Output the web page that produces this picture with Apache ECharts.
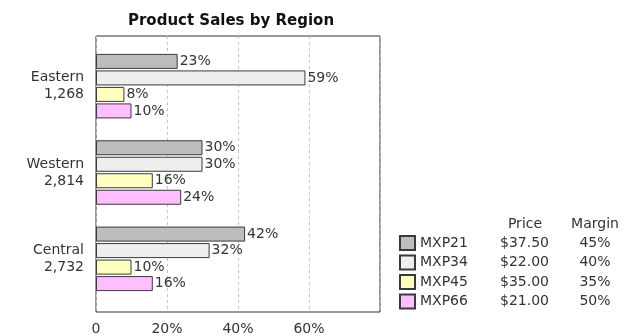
<!DOCTYPE html>
<html>
<head>
<meta charset="utf-8">
<script src="https://cdn.jsdelivr.net/npm/echarts@6/dist/echarts.min.js"></script>
<style>
  html, body { margin: 0; padding: 0; background: #fff; }
  #chart { width: 635px; height: 336px; }
</style>
</head>
<body>
<div id="chart"></div>
<script>
// Regions and their unit totals (shown under each region name)
const regions = ['Eastern', 'Western', 'Central'];
const regionTotals = ['1,268', '2,814', '2,732'];

// Products with price and margin columns for the legend table
const products = ['MXP21', 'MXP34', 'MXP45', 'MXP66'];
const prices = ['$37.50', '$22.00', '$35.00', '$21.00'];
const margins = ['45%', '40%', '35%', '50%'];

// Share of each region's sales per product (%), in region order
const shareMXP21 = [23, 30, 42];
const shareMXP34 = [59, 30, 32];
const shareMXP45 = [8, 16, 10];
const shareMXP66 = [10, 24, 16];

// Value axis range / ticks (%)
const axisMin = 0;
const axisMax = 80;
const axisStep = 20;

const productColors = ['#bdbdbd', '#eeeeee', '#ffffbf', '#ffbfff'];
const FONT = '"DejaVu Sans", Verdana, sans-serif';

const shares = [shareMXP21, shareMXP34, shareMXP45, shareMXP66];

const chart = echarts.init(document.getElementById('chart'), null, { renderer: 'canvas' });

const series = products.map((p, i) => ({
  name: p,
  type: 'bar',
  xAxisIndex: 1,
  yAxisIndex: 1,
  data: shares[i],
  barWidth: 15,
  barGap: '10%',
  itemStyle: { color: productColors[i], borderColor: '#3a3a3a', borderWidth: 1 },
  label: {
    show: true,
    position: 'right',
    distance: 2,
    formatter: '{c}%',
    fontFamily: FONT,
    fontSize: 14,
    color: '#333'
  },
  emphasis: { disabled: true },
  animation: false
}));

chart.setOption({
  backgroundColor: '#fff',
  animation: false,
  graphic: [
    {
      type: 'text', x: 231, y: 21,
      style: { text: 'Product Sales by Region', font: 'bold 15px ' + FONT, fill: '#111', align: 'center', verticalAlign: 'middle' }
    },
    {
      type: 'text', x: 525, y: 224,
      style: { text: 'Price', font: '14px ' + FONT, fill: '#333', align: 'center', verticalAlign: 'middle' }
    },
    {
      type: 'text', x: 595, y: 224,
      style: { text: 'Margin', font: '14px ' + FONT, fill: '#333', align: 'center', verticalAlign: 'middle' }
    }
  ],
  legend: {
    data: products,
    orient: 'vertical',
    left: 399,
    top: 235,
    padding: 0,
    itemWidth: 15,
    itemHeight: 14,
    itemGap: 3.5,
    icon: 'rect',
    selectedMode: false,
    formatter: name => {
      const k = products.indexOf(name);
      return '{n|' + name + '}{p|' + prices[k] + '}{m|' + margins[k] + '}';
    },
    textStyle: {
      fontFamily: FONT,
      fontSize: 14,
      lineHeight: 16,
      color: '#333',
      rich: {
        n: { width: 71, fontFamily: FONT, fontSize: 14, lineHeight: 16, color: '#333' },
        p: { width: 67, align: 'center', fontFamily: FONT, fontSize: 14, lineHeight: 16, color: '#333' },
        m: { width: 74, align: 'center', fontFamily: FONT, fontSize: 14, lineHeight: 16, color: '#333' }
      }
    }
  },
  grid: [
    // framed plot box with gridlines
    { left: 96, top: 36, width: 284, height: 277, show: true, borderColor: '#333', borderWidth: 1, backgroundColor: 'transparent' },
    // inner band area for the grouped bars
    { left: 96, top: 43, width: 284, height: 259 }
  ],
  xAxis: [
    {
      gridIndex: 0, type: 'value', min: axisMin, max: axisMax, interval: axisStep,
      axisLine: { show: false }, axisTick: { show: false },
      splitLine: { show: true, lineStyle: { type: [3, 3], color: '#c4c4c4', width: 1 } },
      axisLabel: {
        margin: 10,
        showMaxLabel: false,
        fontFamily: FONT, fontSize: 14, color: '#333',
        formatter: v => (v === 0 ? '0' : v + '%')
      }
    },
    {
      gridIndex: 1, type: 'value', min: axisMin, max: axisMax, show: false
    }
  ],
  yAxis: [
    { gridIndex: 0, type: 'value', show: false },
    {
      gridIndex: 1, type: 'category', inverse: true,
      data: regions,
      axisLine: { show: false }, axisTick: { show: false },
      axisLabel: {
        margin: 12,
        align: 'right',
        lineHeight: 17,
        fontFamily: FONT, fontSize: 14, color: '#333',
        formatter: (v, idx) => v + '\n' + regionTotals[idx]
      }
    }
  ],
  series: series
});
</script>
</body>
</html>
